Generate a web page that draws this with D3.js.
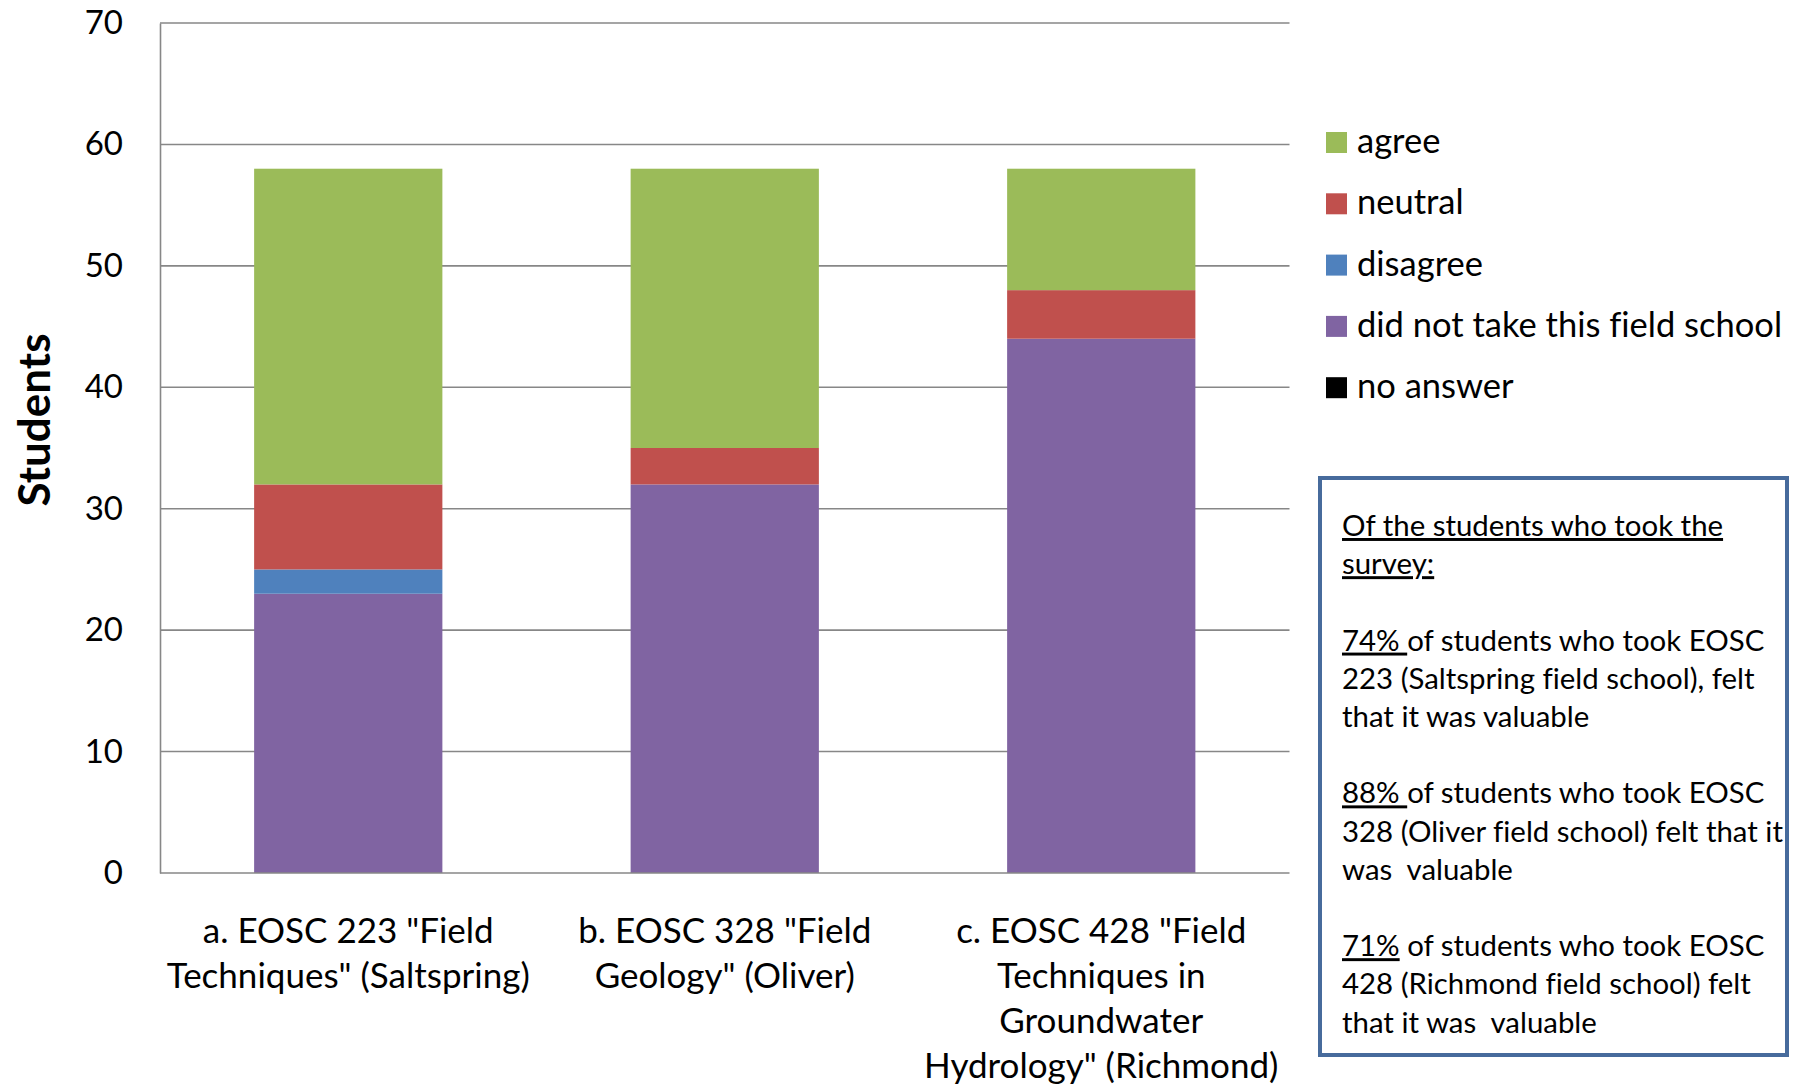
<!DOCTYPE html>
<html>
<head>
<meta charset="utf-8">
<script src="https://cdn.jsdelivr.net/npm/d3@7"></script>
<style>
  body { margin: 0; background: #fff; }
  svg { display: block; }
  text { font-family: Lato, "Open Sans", sans-serif; fill: #000; white-space: pre; font-variant-ligatures: none; }
</style>
</head>
<body>
<svg id="chart" width="1800" height="1087"></svg>
<script>
// Survey responses per field school (students)
const categories = ["EOSC 223", "EOSC 328", "EOSC 428"];
const categoryLabels = [
  ['a. EOSC 223 "Field', 'Techniques" (Saltspring)'],
  ['b. EOSC 328 "Field', 'Geology" (Oliver)'],
  ['c. EOSC 428 "Field', 'Techniques in', 'Groundwater', 'Hydrology" (Richmond)']
];
const noAnswer   = [0, 0, 0];
const didNotTake = [23, 32, 44];
const disagree   = [2, 0, 0];
const neutral    = [7, 3, 4];
const agree      = [26, 23, 10];

// Stack order, bottom to top
const seriesKeys   = ["no answer", "did not take this field school", "disagree", "neutral", "agree"];
const seriesValues = [noAnswer, didNotTake, disagree, neutral, agree];
const seriesColors = ["#000000", "#8064A2", "#4F81BD", "#C0504D", "#9BBB59"];
const legendOrder  = ["agree", "neutral", "disagree", "did not take this field school", "no answer"];
const yTicks = [0, 10, 20, 30, 40, 50, 60, 70];
const schoolNames = ["Saltspring field school", "Oliver field school", "Richmond field school"];

const svg = d3.select("#chart");
const plot = { left: 160, right: 1289.5, top: 23, bottom: 873 };

const x = d3.scaleBand()
  .domain(categories)
  .range([plot.left, plot.right])
  .paddingInner(0.5)
  .paddingOuter(0.25);

const y = d3.scaleLinear().domain([0, 70]).range([plot.bottom, plot.top]);

const color = d3.scaleOrdinal().domain(seriesKeys).range(seriesColors);

// Gridlines
svg.append("g")
  .selectAll("line")
  .data(yTicks.slice(1))
  .join("line")
  .attr("x1", plot.left).attr("x2", plot.right)
  .attr("y1", d => y(d)).attr("y2", d => y(d))
  .attr("stroke", "#878787").attr("stroke-width", 1.6);

// Y axis (labels only, plus the vertical axis line)
const yAxis = d3.axisLeft(y).tickValues(yTicks).tickSize(0).tickPadding(37);
const yg = svg.append("g").attr("transform", `translate(${plot.left},0)`).call(yAxis);
yg.select(".domain").attr("stroke", "#878787").attr("stroke-width", 1.6);
yg.selectAll("text").attr("font-size", 33).attr("font-family", "Lato, sans-serif").attr("fill", "#000");

// Stacked bars
const table = categories.map((c, i) => {
  const row = { category: c };
  seriesKeys.forEach((k, j) => row[k] = seriesValues[j][i]);
  return row;
});
const stacked = d3.stack().keys(seriesKeys)(table);

svg.append("g")
  .selectAll("g")
  .data(stacked)
  .join("g")
  .attr("fill", d => color(d.key))
  .selectAll("rect")
  .data(d => d)
  .join("rect")
  .attr("x", d => x(d.data.category))
  .attr("width", x.bandwidth())
  .attr("y", d => y(d[1]))
  .attr("height", d => y(d[0]) - y(d[1]));

// X axis baseline
svg.append("line")
  .attr("x1", plot.left).attr("x2", plot.right)
  .attr("y1", plot.bottom).attr("y2", plot.bottom)
  .attr("stroke", "#878787").attr("stroke-width", 1.6);

// Category labels
categories.forEach((c, i) => {
  const t = svg.append("text")
    .attr("text-anchor", "middle")
    .attr("font-size", 35);
  categoryLabels[i].forEach((line, k) => {
    t.append("tspan")
      .attr("x", x(c) + x.bandwidth() / 2)
      .attr("y", 943 + k * 45)
      .text(line);
  });
});

// Y axis title
svg.append("text")
  .attr("transform", "translate(50,420) rotate(-90)")
  .attr("text-anchor", "middle")
  .attr("font-size", 44)
  .attr("font-weight", "bold")
  .text("Students");

// Legend
const legend = svg.append("g");
legendOrder.forEach((k, i) => {
  const cy = 153 + i * 61.3;
  legend.append("rect")
    .attr("x", 1326).attr("y", cy - 21)
    .attr("width", 21).attr("height", 21)
    .attr("fill", color(k));
  legend.append("text")
    .attr("x", 1357).attr("y", cy)
    .attr("font-size", 34.5)
    .text(k);
});

// Note box with share of respondents who found each school valuable
const pct = categories.map((c, i) =>
  Math.round(100 * agree[i] / (agree[i] + neutral[i] + disagree[i])) + "%");
const codes = categories.map(c => c.split(" ")[1]);

const noteLines = [
  [["Of the students who took the", true]],
  [["survey:", true]],
  [],
  [[pct[0] + " ", true], ["of students who took EOSC", false]],
  [[codes[0] + " (" + schoolNames[0] + "), felt", false]],
  [["that it was valuable", false]],
  [],
  [[pct[1] + " ", true], ["of students who took EOSC", false]],
  [[codes[1] + " (" + schoolNames[1] + ") felt that it", false]],
  [["was  valuable", false]],
  [],
  [[pct[2], true], [" of students who took EOSC", false]],
  [[codes[2] + " (" + schoolNames[2] + ") felt", false]],
  [["that it was  valuable", false]]
];

svg.append("rect")
  .attr("x", 1320).attr("y", 478)
  .attr("width", 467).attr("height", 577)
  .attr("fill", "none")
  .attr("stroke", "#476B9C")
  .attr("stroke-width", 4);

noteLines.forEach((segs, k) => {
  if (!segs.length) return;
  const t = svg.append("text")
    .attr("x", 1342).attr("y", 536 + k * 38.2)
    .attr("font-size", 29.4);
  segs.forEach(([s, u]) => {
    t.append("tspan")
      .attr("text-decoration", u ? "underline" : null)
      .text(s);
  });
});
</script>
</body>
</html>
